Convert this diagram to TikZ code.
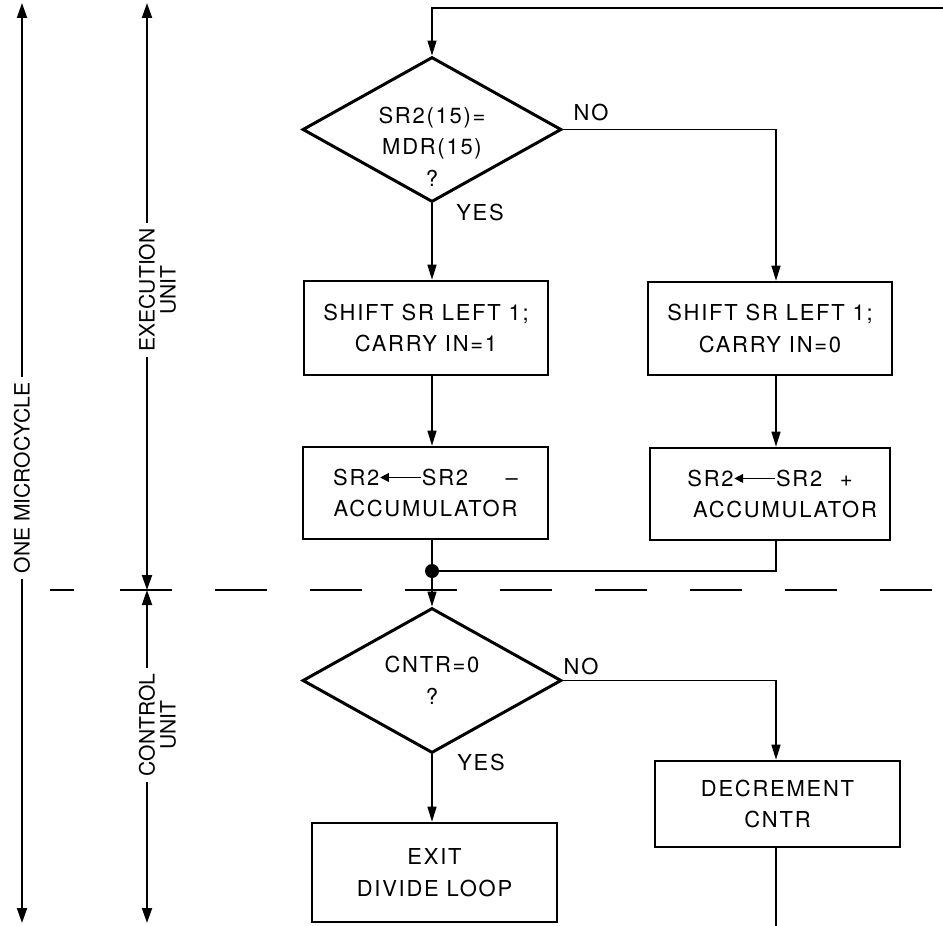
\documentclass[tikz,border=0pt]{standalone}
\usepackage{fontspec}
\setmainfont{TeX Gyre Heros}[LetterSpace=8]
\newfontfamily\sidefont{TeX Gyre Heros}
\usetikzlibrary{shapes.geometric, arrows.meta, positioning}

% small arrow used inside the register transfer texts
\newcommand{\assignarrow}{\tikz[baseline=-4.4pt]\draw[line width=0.8pt,-{Triangle[length=5pt,width=5pt]}] (0.82cm,0) -- (0,0);}

\begin{document}
\begin{tikzpicture}[
        x=0.02cm, y=-0.02cm,
        font=\fontsize{12.5}{18}\selectfont,
        block/.style={
          rectangle,
          draw,
          line width=1.5pt,
          align=center,
          inner sep=2pt
        },
        decision/.style={
          diamond,
          draw,
          line width=1.7pt,
          align=center,
          inner sep=0pt,
          minimum width=5.18cm,
          minimum height=2.9cm
        },
        line/.style={-{Triangle[length=0.3cm,width=0.18cm]}, line width=0.8pt},
        plain/.style={line width=0.8pt},
        span/.style={{Triangle[length=0.3cm,width=0.2cm]}-{Triangle[length=0.3cm,width=0.2cm]}, line width=1.1pt},
        side/.style={rotate=90, fill=white, align=center, inner sep=3pt, font=\sidefont\fontsize{12}{12}\selectfont},
        tag/.style={inner sep=1pt}
    ]
    \useasboundingbox (0,0) rectangle (943,926);

    % Define the nodes
    \node[decision] (test) at (432,129.5) {};
    \node[tag, align=center] (testtext) at (432,146.5) {SR2(15)=\\MDR(15)\\?};
    \node[block, minimum width=4.88cm, minimum height=1.88cm] (shiftone) at (426,328) {SHIFT SR LEFT 1;\\CARRY IN=1};
    \node[block, minimum width=4.88cm, minimum height=1.86cm] (shiftzero) at (770,328.5) {SHIFT SR LEFT 1;\\CARRY IN=0};
    \node[block, minimum width=4.9cm, minimum height=1.84cm] (subacc) at (425.5,493) {SR2\assignarrow SR2\hspace{0.75cm}--\\ACCUMULATOR};
    \node[block, minimum width=4.8cm, minimum height=1.84cm] (addacc) at (770,494) {SR2\assignarrow SR2\hspace{0.35cm}+\\\hspace*{0.6cm}ACCUMULATOR};
    \node[circle, fill, inner sep=0pt, minimum size=0.28cm] (join) at (432,571) {};
    \node[decision] (zero) at (432,680.5) {CNTR=0\\?};
    \node[block, minimum width=4.9cm, minimum height=1.98cm] (exitloop) at (434.5,872.5) {EXIT\\DIVIDE LOOP};
    \node[block, minimum width=4.9cm, minimum height=1.72cm] (decr) at (777.5,804) {DECREMENT\\CNTR};

    % Branch labels
    \node[tag] (testno) at (591,112) {NO};
    \node[tag] (testyes) at (480,212) {YES};
    \node[tag] (zerono) at (581,666) {NO};
    \node[tag] (zeroyes) at (481,762) {YES};

    % Loop ends and right column
    \coordinate (rcol) at (776,0);
    \coordinate (looptop) at (943,8);
    \coordinate (loopbot) at (776,926);

    % Connect the nodes
    \draw[line] (looptop) -| (test.north);
    \draw[line] (test.south) -- (test.south |- shiftone.north);
    \draw[line] (test.east) -| (rcol |- shiftzero.north);
    \draw[line] (test.south |- shiftone.south) -- (test.south |- subacc.north);
    \draw[line] (rcol |- shiftzero.south) -- (rcol |- addacc.north);
    \draw[plain] (test.south |- subacc.south) -- (join);
    \draw[plain] (rcol |- addacc.south) |- (join);
    \draw[line] (join) -- (zero.north);
    \draw[line] (zero.south) -- (zero.south |- exitloop.north);
    \draw[line] (zero.east) -| (rcol |- decr.north);
    \draw[plain] (rcol |- decr.south) -- (loopbot);

    % Dividing line between the units
    \draw[line width=1pt, dash pattern=on 1.04cm off 0.86cm] (120,590) -- (943,590);
    \draw[line width=1pt] (50,590) -- (74,590);

    % Timing arrows on the left
    \coordinate (cyctop) at (22,3);
    \coordinate (cycbot) at (22,923);
    \coordinate (exectop) at (147,3);
    \coordinate (split) at (147,590);
    \coordinate (ctrlbot) at (147,923);
    \draw[span] (cyctop) -- (cycbot);
    \draw[span] (exectop) -- (split);
    \draw[span] (split) -- (ctrlbot);
    \node[side] (cycle) at (22,478) {ONE MICROCYCLE};
    \node[side] (exec) at (157.5,290) {EXECUTION\\UNIT};
    \node[side] (ctrl) at (157.5,725) {CONTROL\\UNIT};

    \end{tikzpicture}
\end{document}
